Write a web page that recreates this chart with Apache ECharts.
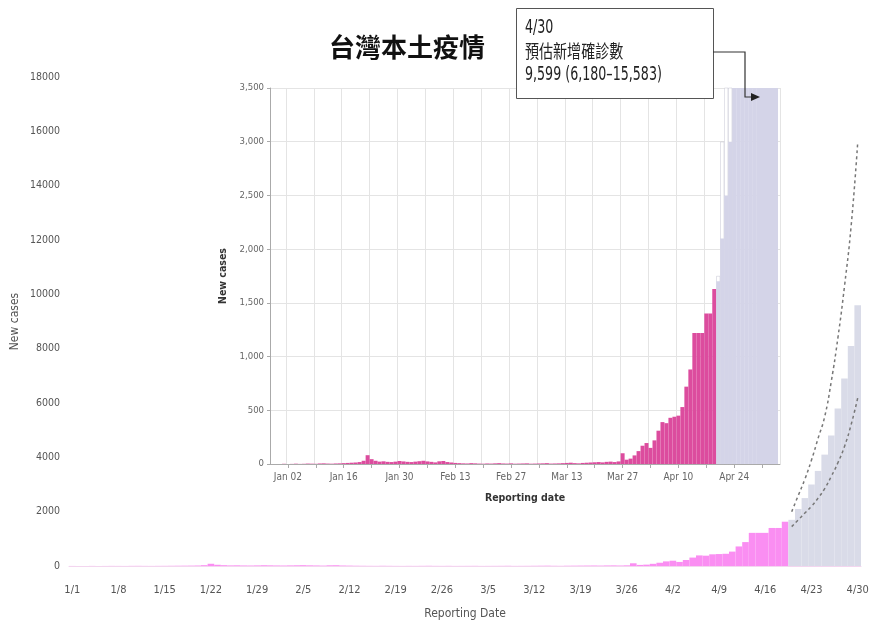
<!DOCTYPE html>
<html><head><meta charset="utf-8">
<script src="https://cdn.jsdelivr.net/npm/echarts@6/dist/echarts.min.js"></script>
<style>html,body{margin:0;padding:0;background:#fff}#c{width:870px;height:623px}</style>
</head><body><div id="c"></div>
<script>
// ---------- categories ----------
const monthNames = ['Jan','Feb','Mar','Apr','May'];
const monthDays = [31,28,31,30];
const mainDates = [];
const insetDates = ['Dec 29','Dec 30','Dec 31'];
const pad = d => (d < 10 ? '0' + d : '' + d);
for (let m = 0; m < 4; m++) {
  for (let d = 1; d <= monthDays[m]; d++) {
    mainDates.push((m + 1) + '/' + d);
    insetDates.push(monthNames[m] + ' ' + pad(d));
  }
}
['May 01','May 02','May 03','May 04','May 05'].forEach(s => insetDates.push(s));

// ---------- tick labels ----------
const mainTickLabels = ['1/1','1/8','1/15','1/22','1/29','2/5','2/12','2/19','2/26','3/5','3/12','3/19','3/26','4/2','4/9','4/16','4/23','4/30'];
const insetTickLabels = ['Jan 02','Jan 16','Jan 30','Feb 13','Feb 27','Mar 13','Mar 27','Apr 10','Apr 24'];
const insetWeekTicks = ['Jan 02','Jan 09','Jan 16','Jan 23','Jan 30','Feb 06','Feb 13','Feb 20','Feb 27','Mar 06','Mar 13','Mar 20','Mar 27','Apr 03','Apr 10','Apr 17','Apr 24','May 01'];

// ---------- values ----------
// observed local cases, 1/1 .. 4/19
const observed = [
  2,0,1,3,1,2,4,3,2,5,6,4,3,5,6,
  8,10,12,14,18,30,
  82,45,30,22,25,20,18,22,28,24,
  20,18,22,26,30,24,20,15,25,28,18,14,
  10,8,6,5,8,6,4,3,5,4,6,8,5,4,6,3,
  4,5,6,3,4,5,6,8,4,5,6,8,10,12,8,6,10,12,14,16,18,15,20,22,18,24,
  100,40,50,80,120,170,195,150,220,310,390,380,430,440,450,530,720,880,1220,1220,1220,1400,1400,1630
];
// projection 4/20 .. 4/30
const projected  = [1700,2100,2500,3000,3500,4100,4800,5800,6900,8100,9599];
const upperBound = [2000,2600,3200,3900,4700,5500,6800,8400,10300,12500,15583];
const lowerBound = [1450,1700,1950,2200,2500,2850,3300,3800,4400,5200,6180];
// inset outlined (white) projection bars, Apr 20 .. Apr 23
const insetAltProj = [1750,3000,3600,3600];
// annotation texts
const noteLines = ['4/30', '預估新增確診數', '9,599 (6,180–15,583)'];

// ---------- build series arrays ----------
const nObs = observed.length;
const mainObs = mainDates.map((d, i) => i < nObs ? observed[i] : null);
const mainProj = mainDates.map((d, i) => i >= nObs ? projected[i - nObs] : null);
const mainUpper = mainDates.map((d, i) => i >= nObs ? upperBound[i - nObs] : null);
const mainLower = mainDates.map((d, i) => i >= nObs ? lowerBound[i - nObs] : null);
const off = 3;
const insetObs = insetDates.map((d, i) => (i - off >= 0 && i - off < nObs) ? observed[i - off] : null);
const insetProj = insetDates.map((d, i) => (i - off >= nObs && i - off < nObs + projected.length) ? projected[i - off - nObs] : null);
const insetAlt = insetDates.map((d, i) => (i - off >= nObs && i - off < nObs + insetAltProj.length) ? insetAltProj[i - off - nObs] : null);

const narrow = "'Liberation Sans Narrow','DejaVu Sans Condensed','Roboto Condensed','Open Sans',sans-serif";
const cjk = "'Noto Sans CJK TC','Noto Sans CJK SC',sans-serif";

const chart = echarts.init(document.getElementById('c'), null, {renderer: 'canvas'});
chart.setOption({
  backgroundColor: '#fff',
  animation: false,
  title: {
    text: '台灣本土疫情', left: 402, top: 29, textAlign: 'center',
    textStyle: {fontFamily: cjk, fontSize: 26, fontWeight: 'bold', color: '#111'}
  },
  grid: [
    {left: 69, width: 792, top: 77, height: 489, outerBoundsMode: 'none', containLabel: false},
    {left: 270, width: 510, top: 88, height: 376, show: true, backgroundColor: '#fff', borderWidth: 0, z: 5,
      outerBoundsMode: 'none', containLabel: false}
  ],
  xAxis: [
    {
      type: 'category', gridIndex: 0, data: mainDates, boundaryGap: true,
      axisLine: {show: true, lineStyle: {color: '#f3d6ef', width: 1}},
      axisTick: {show: false},
      axisLabel: {
        interval: (i, v) => mainTickLabels.includes(v), margin: 19,
        fontFamily: narrow, fontSize: 11, color: '#555'
      },
      name: 'Reporting Date', nameLocation: 'middle', nameGap: 42,
      nameTextStyle: {fontFamily: narrow, fontSize: 12, color: '#555'}
    },
    {
      type: 'category', gridIndex: 1, data: insetDates, boundaryGap: true, z: 6,
      axisLine: {show: true, lineStyle: {color: '#aaa', width: 1}},
      axisTick: {show: true, alignWithLabel: true, length: 4, lineStyle: {color: '#aaa'},
        interval: (i, v) => insetWeekTicks.includes(v)},
      axisLabel: {
        interval: (i, v) => insetTickLabels.includes(v), margin: 8,
        fontFamily: narrow, fontSize: 10, color: '#666'
      },
      splitLine: {show: true, interval: (i, v) => insetWeekTicks.includes(v), lineStyle: {color: '#e4e4e4', width: 1}},
      name: 'Reporting date', nameLocation: 'middle', nameGap: 29,
      nameTextStyle: {fontFamily: narrow, fontSize: 10.5, fontWeight: 'bold', color: '#333'}
    }
  ],
  yAxis: [
    {
      type: 'value', gridIndex: 0, min: 0, max: 18000, interval: 2000,
      axisLine: {show: false}, axisTick: {show: false}, splitLine: {show: false},
      axisLabel: {formatter: v => String(v), margin: 9, fontFamily: narrow, fontSize: 10.5, color: '#555'},
      name: 'New cases', nameLocation: 'middle', nameGap: 48, nameMoveOverlap: false,
      nameTextStyle: {fontFamily: narrow, fontSize: 12, color: '#555'}
    },
    {
      type: 'value', gridIndex: 1, min: 0, max: 3500, interval: 500, z: 6,
      axisLine: {show: true, lineStyle: {color: '#aaa'}},
      axisTick: {show: true, length: 3, lineStyle: {color: '#aaa'}},
      splitLine: {show: true, lineStyle: {color: '#e4e4e4'}},
      axisLabel: {margin: 6, fontFamily: narrow, fontSize: 9.5, color: '#666'},
      name: 'New cases', nameLocation: 'middle', nameGap: 38,
      nameTextStyle: {fontFamily: narrow, fontSize: 10.5, fontWeight: 'bold', color: '#333'}
    }
  ],
  series: [
    {type: 'bar', name: 'observed', xAxisIndex: 0, yAxisIndex: 0, data: mainObs,
      barCategoryGap: '0%', barGap: '-100%', itemStyle: {color: '#fa8ef2'}},
    {type: 'bar', name: 'projected', xAxisIndex: 0, yAxisIndex: 0, data: mainProj,
      barCategoryGap: '0%', barGap: '-100%', itemStyle: {color: '#d9dbe8'}},
    {type: 'line', name: 'upper', xAxisIndex: 0, yAxisIndex: 0, data: mainUpper, smooth: true,
      showSymbol: false, lineStyle: {color: '#777', width: 1.5, type: [3, 3]}, z: 4},
    {type: 'line', name: 'lower', xAxisIndex: 0, yAxisIndex: 0, data: mainLower, smooth: true,
      showSymbol: false, lineStyle: {color: '#777', width: 1.5, type: [3, 3]}, z: 4},
    {type: 'bar', name: 'insetAlt', xAxisIndex: 1, yAxisIndex: 1, data: insetAlt, z: 7,
      barCategoryGap: '0%', barGap: '-100%', itemStyle: {color: '#fff', borderColor: '#c4c4d2', borderWidth: 0.5}},
    {type: 'bar', name: 'insetObs', xAxisIndex: 1, yAxisIndex: 1, data: insetObs, z: 8,
      barCategoryGap: '0%', barGap: '-100%', itemStyle: {color: '#dc4c9e'}},
    {type: 'bar', name: 'insetProj', xAxisIndex: 1, yAxisIndex: 1, data: insetProj, z: 8,
      barCategoryGap: '0%', barGap: '-100%', itemStyle: {color: '#d4d4e8'}},
    {type: 'line', name: 'window', xAxisIndex: 1, yAxisIndex: 1, data: [], z: 8,
      markArea: {silent: true, z: 8, itemStyle: {color: '#d4d4e8'}, label: {show: false},
        data: [[{coord: ['Apr 30', 0]}, {coord: ['May 05', 3500]}]]}}
  ],
  graphic: [
    {type: 'rect', z: 100, shape: {x: 516.5, y: 8.5, width: 197, height: 90},
      style: {fill: '#fff', stroke: '#555', lineWidth: 1}},
    {type: 'text', z: 101, x: 525, y: 28, scaleX: 0.74,
      style: {x: 0, y: 0, text: noteLines[0], font: "19px " + narrow, fill: '#222', verticalAlign: 'middle'}},
    {type: 'text', z: 101, x: 525, y: 51, scaleX: 0.78,
      style: {x: 0, y: 0, text: noteLines[1], font: "18px " + cjk, fill: '#222', verticalAlign: 'middle'}},
    {type: 'text', z: 101, x: 525, y: 75, scaleX: 0.74,
      style: {x: 0, y: 0, text: noteLines[2], font: "19px " + narrow, fill: '#222', verticalAlign: 'middle'}},
    {type: 'polyline', z: 101, shape: {points: [[713, 52], [745, 52], [745, 97], [752, 97]]},
      style: {stroke: '#333', lineWidth: 1.2, fill: null}},
    {type: 'polygon', z: 101, shape: {points: [[751, 93], [760, 97], [751, 101]]},
      style: {fill: '#222'}}
  ]
});
</script></body></html>
